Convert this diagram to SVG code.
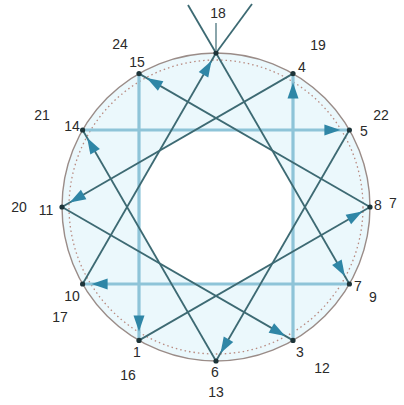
<svg xmlns="http://www.w3.org/2000/svg" width="404" height="405" viewBox="0 0 404 405">
<style>
.lbl{font-family:"Liberation Sans",Arial,sans-serif;font-size:14px;fill:#2a2a2a;text-anchor:middle;dominant-baseline:central}
.thick{stroke:#8ec4d8;stroke-width:3.2;fill:none}
.thin{stroke:#3d6a73;stroke-width:1.8;fill:none}
.dot{fill:#1d3439}
</style>
<defs>
<marker id="ah" markerUnits="userSpaceOnUse" markerWidth="30" markerHeight="12" viewBox="0 0 30 12" refX="25" refY="6" orient="auto" overflow="visible">
<path d="M0,0.5 L16,6 L0,11.5 z" fill="#2f86a6"/>
</marker>
</defs>
<rect width="404" height="405" fill="#ffffff"/>
<g id="background">
<circle cx="216" cy="207" r="154" fill="#ebf8fc" stroke="#9a8c88" stroke-width="1.4"/>
<polygon points="236.6,130 272.4,150.6 293,186.4 293,227.6 272.4,263.4 236.6,284 195.4,284 159.6,263.4 139,227.6 139,186.4 159.6,150.6 195.4,130" fill="#ffffff"/>
<circle cx="216" cy="207" r="147" fill="none" stroke="#b88a80" stroke-width="1.3" stroke-dasharray="1.5 3"/>
</g>
<g id="connectors">
<line class="thick" x1="349.4" y1="284" x2="82.6" y2="284" marker-end="url(#ah)"/>
<line class="thick" x1="293" y1="340.4" x2="293" y2="73.6" marker-end="url(#ah)"/>
<line class="thick" x1="82.6" y1="130" x2="349.4" y2="130" marker-end="url(#ah)"/>
<line class="thick" x1="139" y1="73.6" x2="139" y2="340.4" marker-end="url(#ah)"/>
<line class="thin" x1="216" y1="53" x2="349.4" y2="284" marker-end="url(#ah)"/>
<line class="thin" x1="82.6" y1="284" x2="216" y2="53" marker-end="url(#ah)"/>
<line class="thin" x1="293" y1="73.6" x2="62" y2="207" marker-end="url(#ah)"/>
<line class="thin" x1="62" y1="207" x2="293" y2="340.4" marker-end="url(#ah)"/>
<line class="thin" x1="349.4" y1="130" x2="216" y2="361" marker-end="url(#ah)"/>
<line class="thin" x1="216" y1="361" x2="82.6" y2="130" marker-end="url(#ah)"/>
<line class="thin" x1="139" y1="340.4" x2="370" y2="207" marker-end="url(#ah)"/>
<line class="thin" x1="370" y1="207" x2="139" y2="73.6" marker-end="url(#ah)"/>
<line class="thin" x1="216" y1="53" x2="188" y2="5"/>
<line class="thin" x1="216" y1="53" x2="252" y2="4"/>
<line stroke="#3d6a73" stroke-width="1.2" x1="216" y1="50" x2="216" y2="23"/>
</g>
<g id="node-T"><circle class="dot" cx="216" cy="53" r="2.6"/><text class="lbl" x="218" y="13">18</text></g>
<g id="node-A"><circle class="dot" cx="293" cy="73.6" r="2.6"/><text class="lbl" x="302" y="67">4</text><text class="lbl" x="318" y="45">19</text></g>
<g id="node-B"><circle class="dot" cx="349.4" cy="130" r="2.6"/><text class="lbl" x="364" y="131">5</text><text class="lbl" x="381" y="115">22</text></g>
<g id="node-C"><circle class="dot" cx="370" cy="207" r="2.6"/><text class="lbl" x="378" y="205">8</text><text class="lbl" x="393" y="203">7</text></g>
<g id="node-D"><circle class="dot" cx="349.4" cy="284" r="2.6"/><text class="lbl" x="358" y="286">7</text><text class="lbl" x="373" y="297">9</text></g>
<g id="node-E"><circle class="dot" cx="293" cy="340.4" r="2.6"/><text class="lbl" x="300" y="352">3</text><text class="lbl" x="322" y="368">12</text></g>
<g id="node-F"><circle class="dot" cx="216" cy="361" r="2.6"/><text class="lbl" x="215" y="372">6</text><text class="lbl" x="216" y="392">13</text></g>
<g id="node-G"><circle class="dot" cx="139" cy="340.4" r="2.6"/><text class="lbl" x="137" y="352">1</text><text class="lbl" x="128" y="375">16</text></g>
<g id="node-H"><circle class="dot" cx="82.6" cy="284" r="2.6"/><text class="lbl" x="72" y="296">10</text><text class="lbl" x="60" y="317">17</text></g>
<g id="node-I"><circle class="dot" cx="62" cy="207" r="2.6"/><text class="lbl" x="46" y="210">11</text><text class="lbl" x="19" y="207">20</text></g>
<g id="node-J"><circle class="dot" cx="82.6" cy="130" r="2.6"/><text class="lbl" x="72" y="126">14</text><text class="lbl" x="42" y="115">21</text></g>
<g id="node-K"><circle class="dot" cx="139" cy="73.6" r="2.6"/><text class="lbl" x="137" y="62">15</text><text class="lbl" x="120" y="44">24</text></g>
</svg>
